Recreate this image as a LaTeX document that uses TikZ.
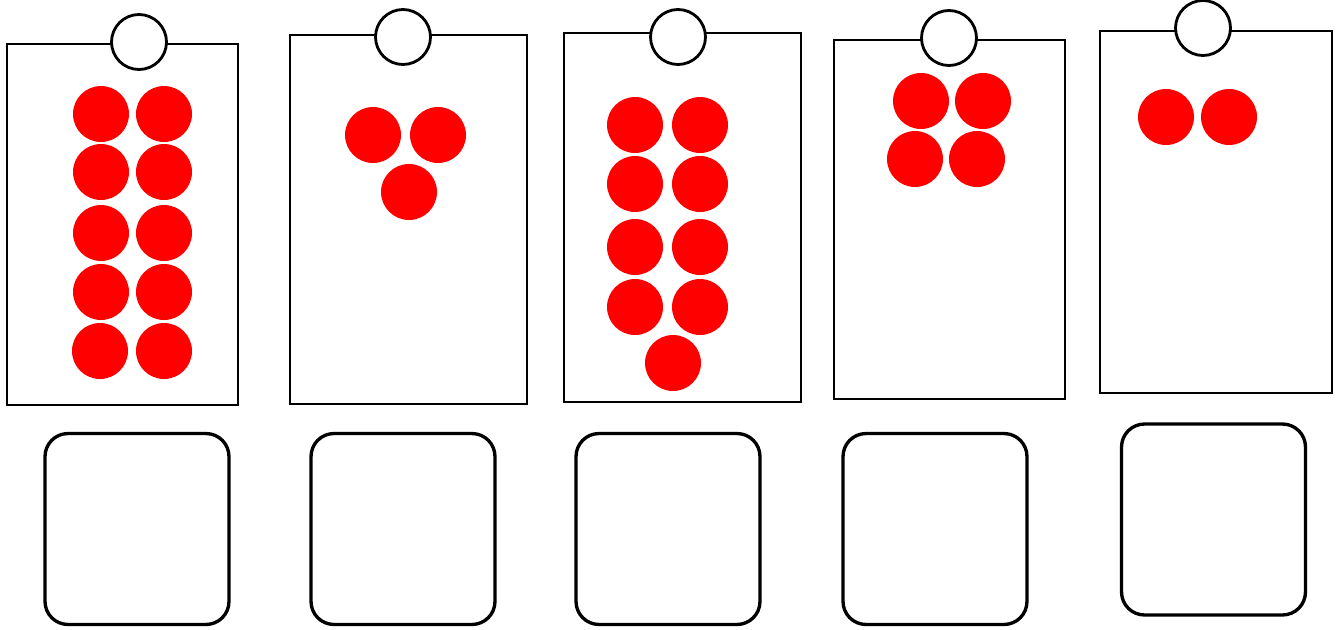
\documentclass[tikz,border=0pt]{standalone}
\usetikzlibrary{positioning}

\begin{document}
\begin{tikzpicture}[x=0.02cm, y=-0.02cm]

% ---------------------------------------------------------------- colours
\definecolor{inkcolor}{HTML}{000000}   % outlines
\definecolor{dotcolor}{HTML}{FF0000}   % the counters

\tikzset{
    card/.style={rectangle, draw=inkcolor, line width=1.6pt, fill=white,
                 inner sep=0pt},
    pin/.style={circle, draw=inkcolor, line width=1.6pt, fill=white,
                minimum size=1.1cm, inner sep=0pt},
    dot/.style={circle, fill=dotcolor, minimum size=1.12cm, inner sep=0pt},
    tray/.style={rectangle, draw=inkcolor, line width=1.9pt, rounded corners=0.46cm,
                 minimum width=3.68cm, minimum height=3.82cm, inner sep=0pt},
}

\useasboundingbox (0,0) rectangle (1342,629);

% ================================================================
% Five cards along the top, each with a pin on its upper edge,
% and an empty tray under each card.
%   (coordinates in pixels of the 1342 x 629 sheet, y down)
% ================================================================

% ----------------------------------------------------------------------
% cards and pins
% ----------------------------------------------------------------------
\foreach \n/\cx/\cy/\w/\h/\px/\py in {
    1/122.5/224.5/4.62cm/7.22cm/139/42,
    2/408.5/219.5/4.74cm/7.38cm/403/37,
    3/682.5/217.5/4.74cm/7.38cm/678/37,
    4/949.5/219.5/4.62cm/7.18cm/949/38,
    5/1216/212/4.64cm/7.24cm/1203/28}
{
    \node[card, minimum width=\w, minimum height=\h] (card\n) at (\cx,\cy) {};
    \node[pin] (pin\n) at (\px,\py) {};
}

% ----------------------------------------------------------------------
% dots on each card
% ----------------------------------------------------------------------
\foreach \k/\x/\y in {a/101/114, b/164/114, c/101/172, d/164/172,
                      e/101/233, f/164/233, g/101/292, h/164/292,
                      i/100/351, j/164/351}
    \node[dot] (dot1\k) at (\x,\y) {};

\foreach \k/\x/\y in {a/373/135, b/438/135, c/409/192}
    \node[dot] (dot2\k) at (\x,\y) {};

\foreach \k/\x/\y in {a/635/125, b/700/125, c/635/184, d/700/184,
                      e/635/247, f/700/247, g/635/307, h/700/307,
                      i/673/363}
    \node[dot] (dot3\k) at (\x,\y) {};

\foreach \k/\x/\y in {a/921/101, b/983/101, c/915/159, d/977/159}
    \node[dot] (dot4\k) at (\x,\y) {};

\foreach \k/\x/\y in {a/1166/117, b/1229/117}
    \node[dot] (dot5\k) at (\x,\y) {};

% ----------------------------------------------------------------------
% empty trays
% ----------------------------------------------------------------------
\foreach \n/\x/\y in {1/137/529, 2/403/529, 3/668/529, 4/935/529, 5/1213.5/519.5}
    \node[tray] (tray\n) at (\x,\y) {};

\end{tikzpicture}
\end{document}
